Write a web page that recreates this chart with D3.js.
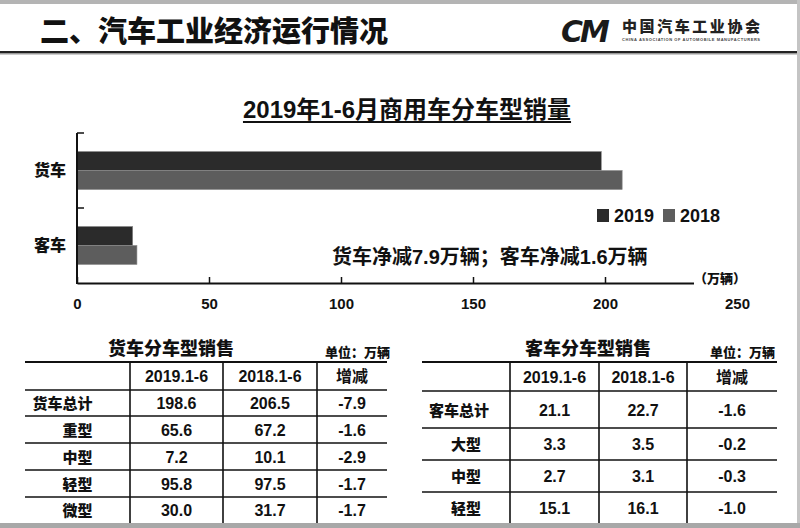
<!DOCTYPE html>
<html>
<head>
<meta charset="utf-8">
<script src="https://cdn.jsdelivr.net/npm/d3@7"></script>
<style>
  body { margin: 0; background: #fff; }
  svg { display: block; font-family: "Liberation Sans", "Noto Sans CJK SC", sans-serif; font-weight: bold; }
</style>
</head>
<body>
<svg width="800" height="528"></svg>
<script>
// chart data
var categories = ['货车', '客车'];
var years = ['2019', '2018'];
var sales2019 = [198.6, 21.1];
var sales2018 = [206.5, 22.7];
var xTicks = [0, 50, 100, 150, 200, 250];

// tables
var tableHeads = ['2019.1-6', '2018.1-6', '增减'];
var truckTypes = ['货车总计', '重型', '中型', '轻型', '微型'];
var truck2019 = [198.6, 65.6, 7.2, 95.8, 30.0];
var truck2018 = [206.5, 67.2, 10.1, 97.5, 31.7];
var truckChange = [-7.9, -1.6, -2.9, -1.7, -1.7];
var busTypes = ['客车总计', '大型', '中型', '轻型'];
var bus2019 = [21.1, 3.3, 2.7, 15.1];
var bus2018 = [22.7, 3.5, 3.1, 16.1];
var busChange = [-1.6, -0.2, -0.3, -1.0];

var colors = { '2019': '#2b2b2b', '2018': '#5d5d5d' };

var svg = d3.select('svg');

// slide frame
svg.append('rect').attr('x', 0).attr('y', 0).attr('width', 800).attr('height', 4).attr('fill', '#b4b4b4');
svg.append('rect').attr('x', 797).attr('y', 0).attr('width', 3).attr('height', 528).attr('fill', '#c4c4c4');
svg.append('rect').attr('x', 0).attr('y', 523).attr('width', 800).attr('height', 5).attr('fill', '#a8a8a8');
svg.append('rect').attr('x', 0).attr('y', 51).attr('width', 797).attr('height', 2).attr('fill', '#222');
svg.append('rect').attr('x', 0).attr('y', 53).attr('width', 797).attr('height', 1.5).attr('fill', '#999');

svg.append('text')
  .attr('x', 40).attr('y', 42)
  .style('font-family', '"Noto Sans CJK SC"').style('font-size', '29px').style('font-weight', 900)
  .attr('fill', '#111')
  .text('二、汽车工业经济运行情况');

// logo
svg.append('text')
  .attr('x', 561).attr('y', 42)
  .style('font-family', '"DejaVu Sans"').style('font-size', '30px').style('font-weight', 900)
  .style('font-style', 'italic').attr('letter-spacing', -3)
  .attr('fill', '#1a1a1a')
  .text('CM');
svg.append('text')
  .attr('x', 622).attr('y', 32)
  .attr('textLength', 138)
  .style('font-family', '"Noto Sans CJK SC"').style('font-size', '15px').style('font-weight', 900)
  .attr('fill', '#222')
  .text('中国汽车工业协会');
svg.append('text')
  .attr('x', 622).attr('y', 41)
  .attr('textLength', 138)
  .style('font-size', '4px').attr('fill', '#444')
  .text('CHINA ASSOCIATION OF AUTOMOBILE MANUFACTURERS');

// bar chart
var x = d3.scaleLinear().domain([0, 250]).range([77, 737]);
var y = d3.scaleBand().domain(categories).range([133, 283]).paddingInner(0.493).paddingOuter(0.247);
var ySub = d3.scaleBand().domain(years).range([0, y.bandwidth()]);

var title = svg.append('text')
  .attr('x', 407).attr('y', 118).attr('text-anchor', 'middle')
  .style('font-size', '24px').attr('fill', '#111')
  .text('2019年1-6月商用车分车型销量');
var tb = title.node().getBBox();
svg.append('rect').attr('x', tb.x).attr('y', 121).attr('width', tb.width).attr('height', 2).attr('fill', '#111');

var rows = categories.map(function(c, i){ return { cat: c, vals: [
  { year: '2019', v: sales2019[i] }, { year: '2018', v: sales2018[i] } ] }; });

var groups = svg.selectAll('g.cat')
  .data(rows)
  .enter()
  .append('g')
    .attr('class', 'cat')
    .attr('transform', function(d){ return 'translate(0,' + y(d.cat) + ')'; });

groups.selectAll('rect')
  .data(function(d){ return d.vals; })
  .enter()
  .append('rect')
    .attr('x', x(0))
    .attr('y', function(d){ return ySub(d.year); })
    .attr('width', function(d){ return x(d.v) - x(0); })
    .attr('height', ySub.bandwidth())
    .attr('fill', function(d){ return colors[d.year]; })
    .attr('stroke', '#8a8a8a').attr('stroke-width', 0.6);

// axes
var xAxis = svg.append('g')
  .attr('transform', 'translate(0,283)')
  .call(d3.axisBottom(x).tickValues(xTicks).tickSize(-6).tickSizeOuter(0).tickPadding(15));
xAxis.select('.domain').attr('stroke', '#111').attr('stroke-width', 2);
xAxis.selectAll('.tick line').attr('stroke', '#111').attr('stroke-width', 1.5);
xAxis.selectAll('.tick text').style('font-size', '15px').attr('fill', '#111')
  .style('font-family', '"Liberation Sans"').style('font-weight', 'bold');

var yAxis = svg.append('g')
  .attr('transform', 'translate(77,0)')
  .call(d3.axisLeft(y).tickSize(0).tickPadding(11));
yAxis.select('.domain').remove();
yAxis.selectAll('.tick text').style('font-size', '16px').attr('fill', '#111')
  .style('font-family', '"Noto Sans CJK SC"').style('font-weight', 900);

svg.append('line').attr('x1', 77).attr('x2', 77).attr('y1', 133).attr('y2', 284)
  .attr('stroke', '#111').attr('stroke-width', 2);
svg.selectAll('line.ytick')
  .data([133, 208])
  .enter()
  .append('line')
    .attr('class', 'ytick')
    .attr('x1', 77).attr('x2', 84)
    .attr('y1', function(d){ return d; }).attr('y2', function(d){ return d; })
    .attr('stroke', '#111').attr('stroke-width', 1.5);

// unit label
svg.append('rect').attr('x', 694).attr('y', 268).attr('width', 52).attr('height', 18).attr('fill', '#fff');
svg.append('text')
  .attr('x', 720).attr('y', 283).attr('text-anchor', 'middle')
  .style('font-family', '"Noto Sans CJK SC"').style('font-size', '13px').style('font-weight', 900)
  .attr('fill', '#111')
  .text('（万辆）');

// legend
var legend = svg.selectAll('g.leg')
  .data(years)
  .enter()
  .append('g')
    .attr('class', 'leg')
    .attr('transform', function(d, i){ return 'translate(' + (597 + i * 66) + ',209)'; });
legend.append('rect').attr('width', 12).attr('height', 13)
  .attr('fill', function(d){ return colors[d]; });
legend.append('text').attr('x', 17).attr('y', 13)
  .style('font-size', '18px').attr('fill', '#111')
  .text(function(d){ return d; });

svg.append('text')
  .attr('x', 332).attr('y', 264)
  .style('font-size', '20px').attr('fill', '#111')
  .text('货车净减7.9万辆；客车净减1.6万辆');

// tables
function drawTable(opt){
  var g = svg.append('g');
  var left = opt.cols[0], right = opt.cols[opt.cols.length - 1];

  g.append('text').attr('x', opt.titleX).attr('y', 355).attr('text-anchor', 'middle')
    .style('font-family', '"Noto Sans CJK SC"').style('font-size', '18px').style('font-weight', 900)
    .attr('fill', '#111').text(opt.title);
  g.append('text').attr('x', right + opt.unitDx).attr('y', 357).attr('text-anchor', 'end')
    .style('font-family', '"Noto Sans CJK SC"').style('font-size', '13px').style('font-weight', 900)
    .attr('fill', '#111').text('单位：万辆');

  // horizontal rules
  g.append('line').attr('x1', left).attr('x2', right).attr('y1', 362).attr('y2', 362)
    .attr('stroke', '#111').attr('stroke-width', 2.2);
  g.selectAll('line.h')
    .data(opt.rows.slice(1, -1))
    .enter()
    .append('line')
      .attr('class', 'h')
      .attr('x1', left).attr('x2', right)
      .attr('y1', function(d){ return d; }).attr('y2', function(d){ return d; })
      .attr('stroke', '#111').attr('stroke-width', 1.6);
  // vertical rules
  g.selectAll('line.v')
    .data(opt.cols.slice(1, -1))
    .enter()
    .append('line')
      .attr('class', 'v')
      .attr('x1', function(d){ return d; }).attr('x2', function(d){ return d; })
      .attr('y1', 362).attr('y2', 523)
      .attr('stroke', '#111').attr('stroke-width', 1.6);

  function cx(c){ return (opt.cols[c] + opt.cols[c + 1]) / 2; }
  function cy(r){ return (opt.rows[r] + opt.rows[r + 1]) / 2; }

  g.selectAll('text.head')
    .data(tableHeads)
    .enter()
    .append('text')
      .attr('class', 'head')
      .attr('x', function(d, i){ return cx(i + 1); })
      .attr('y', function(){ return cy(0) + 6; })
      .attr('text-anchor', 'middle')
      .style('font-size', '16px').attr('fill', '#111')
      .text(function(d){ return d; });

  var cells = [];
  opt.types.forEach(function(t, r){
    cells.push({ r: r, c: 0, t: t, cjk: true });
    cells.push({ r: r, c: 1, t: opt.v1[r].toFixed(1) });
    cells.push({ r: r, c: 2, t: opt.v2[r].toFixed(1) });
    cells.push({ r: r, c: 3, t: opt.dv[r].toFixed(1) });
  });
  g.selectAll('text.cell')
    .data(cells)
    .enter()
    .append('text')
      .attr('class', 'cell')
      .attr('x', function(d){ return cx(d.c) + (d.c === 0 && d.r === 0 ? opt.totalDx : 0); })
      .attr('y', function(d){ return cy(d.r + 1) + 6; })
      .attr('text-anchor', 'middle')
      .style('font-family', function(d){ return d.cjk ? '"Noto Sans CJK SC"' : null; })
      .style('font-weight', function(d){ return d.cjk ? 900 : 'bold'; })
      .style('font-size', function(d){ return d.cjk ? '15px' : '16px'; })
      .attr('fill', '#111')
      .text(function(d){ return d.t; });
}

drawTable({
  title: '货车分车型销售', titleX: 171, unitDx: 3,
  cols: [25, 130, 223, 317, 387],
  rows: [362, 390, 416, 443, 470, 497, 523],
  types: truckTypes, v1: truck2019, v2: truck2018, dv: truckChange, totalDx: -15
});
drawTable({
  title: '客车分车型销售', titleX: 588, unitDx: -2,
  cols: [422, 510, 599, 687, 777],
  rows: [362, 391, 428, 460, 492, 523],
  types: busTypes, v1: bus2019, v2: bus2018, dv: busChange, totalDx: -7
});
</script>
</body>
</html>
